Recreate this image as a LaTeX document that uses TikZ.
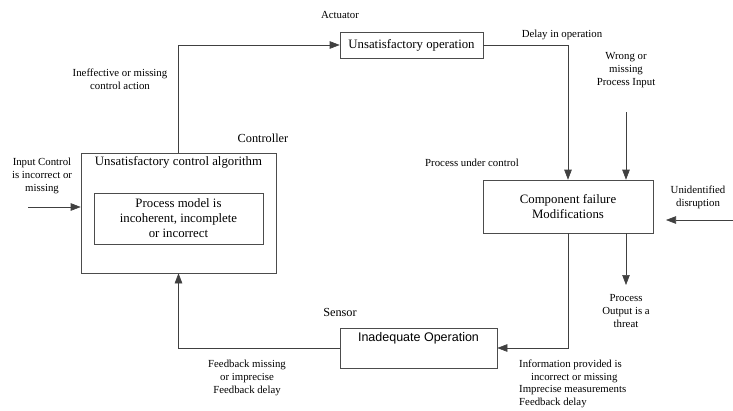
\documentclass[tikz,border=0pt]{standalone}
\usepackage{fontspec}
\setmainfont{Liberation Serif}
\newfontfamily\arialfont{Liberation Sans}
\usetikzlibrary{arrows.meta,positioning}

\begin{document}
\begin{tikzpicture}[
        x=1pt, y=-1pt,
        mybox/.style={
            rectangle,
            draw=black!70,
            line width=0.6pt,
            inner sep=2pt,
            align=center,
            font=\fontsize{12.8}{15}\selectfont},
        mytext/.style={
            align=center,
            inner sep=1pt,
            font=\fontsize{10.8}{12.7}\selectfont},
        mytitle/.style={
            inner sep=2pt,
            font=\fontsize{12.8}{15}\selectfont},
        myline/.style={draw=black!75, line width=0.6pt},
        myarrow/.style={-{Triangle[length=10pt,width=7.5pt]}}
        ]
        \useasboundingbox (0,0) rectangle (733,410);

        \node[mybox, minimum width=195, minimum height=120] (ctrl) at (178.5,213) {};
        \node[mytitle, below=2pt of ctrl.north] (algo) {Unsatisfactory control algorithm};
        \node[mybox, minimum width=169, minimum height=51] (model) at (178.5,218.5) {Process model is\\incoherent, incomplete\\or incorrect};
        \node[mybox, minimum width=143, minimum height=26] (act) at (411.5,45) {Unsatisfactory operation};
        \node[mybox, minimum width=170, minimum height=53] (proc) at (568,206.5) {Component failure\\Modifications};
        \node[mybox, minimum width=157, minimum height=40] (sens) at (418.5,348) {};
        \node[mytitle, font=\arialfont\fontsize{12.5}{14}\selectfont, below=2.5pt of sens.north] (senstxt) {Inadequate Operation};

        \node[mytitle, font=\fontsize{12.3}{15}\selectfont] (ctrllbl) at (263,138) {Controller};
        \node[mytitle, font=\fontsize{12.3}{15}\selectfont] (senslbl) at (340,312) {Sensor};
        \node[mytext] (actlbl) at (340,15) {Actuator};
        \node[mytext] (inefflbl) at (120,79) {Ineffective or missing\\control action};
        \node[mytext] (inputlbl) at (42,176) {Input Control\\is incorrect or\\missing};
        \node[mytext] (delaylbl) at (562,35) {Delay in operation};
        \node[mytext] (wronglbl) at (626,70) {Wrong or\\missing\\Process Input};
        \node[mytext] (underlbl) at (472,163) {Process under control};
        \node[mytext] (disrlbl) at (698,197) {Unidentified\\disruption};
        \node[mytext] (outlbl) at (626,311) {Process\\Output is a\\threat};
        \node[mytext] (fblbl) at (247,378) {Feedback missing\\or imprecise\\Feedback delay};
        \node[mytext, align=left, anchor=west] (infolbl) at (518,384) {Information provided is\\\hspace*{1.1em}incorrect or missing\\Imprecise measurements\\Feedback delay};

        % free ends of the outside inputs and outputs
        \coordinate (inputstart) at (28,207);
        \coordinate (wrongstart) at (626,112);
        \coordinate (disrstart) at (733,220);
        \coordinate (disrtip) at (666,220);
        \coordinate (outtip) at (626,285);

        \foreach \i/\j in {% start/end, straight
            inputstart/inputstart -| ctrl.west,
            wrongstart/wrongstart |- proc.north,
            disrstart/disrtip,
            outtip |- proc.south/outtip}
            \draw[myline, myarrow] (\i) -- (\j);

        \foreach \i/\j in {% start/end, vertical first
            ctrl.north/act.west,
            proc.south/sens.east}
            \draw[myline, myarrow] (\i) |- (\j);

        \foreach \i/\j in {% start/end, horizontal first
            act.east/proc.north,
            sens.west/ctrl.south}
            \draw[myline, myarrow] (\i) -| (\j);
\end{tikzpicture}
\end{document}
